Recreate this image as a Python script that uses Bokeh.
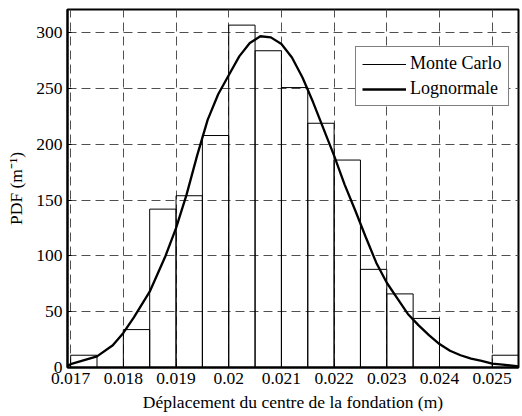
from bokeh.plotting import figure
from bokeh.models import Range1d, FixedTicker, Legend, LegendItem
from bokeh.embed import file_html
from bokeh.resources import INLINE

# Histogram (Monte Carlo): bin edges and PDF heights
bin_left = [0.0170, 0.0175, 0.0180, 0.0185, 0.0190, 0.0195, 0.0200, 0.0205,
            0.0210, 0.0215, 0.0220, 0.0225, 0.0230, 0.0235, 0.0240, 0.0245, 0.0250]
bin_right = [0.0175, 0.0180, 0.0185, 0.0190, 0.0195, 0.0200, 0.0205, 0.0210,
             0.0215, 0.0220, 0.0225, 0.0230, 0.0235, 0.0240, 0.0245, 0.0250, 0.0255]
pdf_mc = [11, 0, 34, 142, 154, 208, 307, 284, 251, 219, 186, 88, 66, 44, 0, 0, 11]

# Lognormal fit curve
curve_x = [0.01694, 0.0170, 0.0175, 0.0178, 0.0180, 0.0182, 0.0185, 0.0188, 0.0190,
           0.0192, 0.0194, 0.0196, 0.0198, 0.0200, 0.0202, 0.0204, 0.0206, 0.0208,
           0.0210, 0.0212, 0.0214, 0.0216, 0.0218, 0.0220, 0.0222, 0.0224, 0.0226,
           0.0228, 0.0230, 0.0232, 0.0234, 0.0236, 0.0238, 0.0240, 0.0242, 0.0244,
           0.0246, 0.0248, 0.0250, 0.0252, 0.0255]
curve_y = [1.5, 3, 10, 20, 31, 45, 68, 100, 125,
           155, 190, 222, 245, 262, 279, 291, 297, 296,
           290, 278, 260, 238, 214, 190, 164, 141, 117,
           94, 76, 62, 48, 38, 29, 21, 15, 11,
           8, 6, 3.5, 2.5, 1]

x_ticks = [0.017, 0.018, 0.019, 0.020, 0.021, 0.022, 0.023, 0.024, 0.025]
x_tick_labels = ["0.017", "0.018", "0.019", "0.02", "0.021", "0.022", "0.023", "0.024", "0.025"]
y_ticks = [0, 50, 100, 150, 200, 250, 300]

series_names = ["Monte Carlo", "Lognormale"]
x_title = "Déplacement du centre de la fondation (m)"
y_title = "PDF (m\u207b\u00b9)"

FONT = "Liberation Serif"

p = figure(width=520, height=416, output_backend="svg", toolbar_location=None,
           x_range=Range1d(0.01694, 0.0255), y_range=Range1d(0, 321),
           min_border_left=67, min_border_right=2, min_border_top=9, min_border_bottom=49)
p.background_fill_color = "white"
p.border_fill_color = "white"
p.outline_line_color = "black"
p.outline_line_width = 2

# grid
for g in (p.xgrid, p.ygrid):
    g.grid_line_color = "#505050"
    g.grid_line_dash = "9 5"
    g.grid_line_width = 1
p.xgrid.ticker = FixedTicker(ticks=x_ticks)
p.ygrid.ticker = FixedTicker(ticks=y_ticks)

# axes
p.xaxis.ticker = FixedTicker(ticks=x_ticks)
p.xaxis.major_label_overrides = {t: l for t, l in zip(x_ticks, x_tick_labels)}
p.yaxis.ticker = FixedTicker(ticks=y_ticks)
for ax in (p.xaxis[0], p.yaxis[0]):
    ax.axis_line_color = "black"
    ax.axis_line_width = 2
    ax.major_tick_in = 4
    ax.major_tick_out = 0
    ax.major_tick_line_color = "black"
    ax.minor_tick_line_color = None
    ax.major_label_text_font = FONT
    ax.major_label_text_font_size = "17.5px"
    ax.major_label_text_color = "black"
    ax.axis_label_text_font = FONT
    ax.axis_label_text_font_size = "17.5px"
    ax.axis_label_text_font_style = "normal"
    ax.axis_label_text_color = "black"
p.xaxis.major_label_standoff = 5
p.yaxis.major_label_standoff = 5
p.xaxis.axis_label = x_title
p.xaxis.axis_label_standoff = 5
p.yaxis.axis_label = y_title
p.yaxis.axis_label_standoff = 7

# histogram bars
p.quad(left=bin_left, right=bin_right, bottom=0, top=pdf_mc,
       fill_alpha=0, line_color="black", line_width=1)

# lognormal curve
curve = p.line(curve_x, curve_y, line_color="black", line_width=2.3)

# legend proxy for the histogram (single point -> nothing drawn in the plot)
mc_proxy = p.line(bin_left[:1], pdf_mc[:1], line_color="black", line_width=1)

legend = Legend(items=[LegendItem(label=series_names[0], renderers=[mc_proxy]),
                       LegendItem(label=series_names[1], renderers=[curve])],
                location=(288, 261), orientation="vertical")
legend.label_text_font = FONT
legend.label_text_font_size = "18px"
legend.label_text_color = "black"
legend.glyph_width = 44
legend.glyph_height = 18
legend.label_height = 18
legend.label_standoff = 4
legend.spacing = 4
legend.padding = 6
legend.margin = 0
legend.border_line_color = "black"
legend.border_line_width = 1.5
legend.background_fill_color = "white"
legend.background_fill_alpha = 1
p.add_layout(legend, "center")

open("out.html", "w").write(file_html(p, INLINE))
